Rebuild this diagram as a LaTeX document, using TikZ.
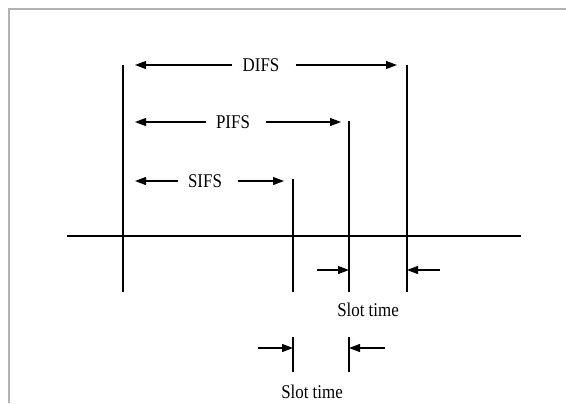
\documentclass[tikz,border=0pt]{standalone}
\usepackage{fontspec}
\setmainfont{Liberation Serif}
\newfontfamily\condserif[FakeStretch=0.87]{Liberation Serif}
\usetikzlibrary{arrows.meta}
\begin{document}
\begin{tikzpicture}[x=1bp,y=-1bp,
  ln/.style={line width=1.2bp},
  arr/.style={line width=1.2bp,-{Triangle[length=11bp,width=8bp]}},
  lbl/.style={font=\condserif\fontsize{19.5}{22}\selectfont,inner sep=0pt},
  frame/.style={draw=black!30,line width=1.4bp}]
\useasboundingbox (0,0) rectangle (566,403);
\draw[frame] (9,403) -- (9,9) -- (566,9);
% time axis
\coordinate (axL) at (67,236);
\coordinate (axR) at (521,236);
\draw[ln] (axL) -- (axR);
% vertical markers
\coordinate (v0t) at (123,65);  \coordinate (v0b) at (123,292);
\coordinate (v1t) at (293,179); \coordinate (v1b) at (293,292);
\coordinate (v2t) at (349,121); \coordinate (v2b) at (349,292);
\coordinate (v3t) at (407,65);  \coordinate (v3b) at (407,292);
\draw[ln] (v0t) -- (v0b);
\draw[ln] (v1t) -- (v1b);
\draw[ln] (v2t) -- (v2b);
\draw[ln] (v3t) -- (v3b);
% DIFS
\node[lbl] (difs) at (261,65) {DIFS};
\coordinate (difsL) at (135,65); \coordinate (difsR) at (397,65);
\draw[arr,shorten <=10bp] (difs.west) -- (difsL);
\draw[arr,shorten <=16bp] (difs.east) -- (difsR);
% PIFS
\node[lbl] (pifs) at (233,122) {PIFS};
\coordinate (pifsL) at (135,122); \coordinate (pifsR) at (341,122);
\draw[arr,shorten <=10bp] (pifs.west) -- (pifsL);
\draw[arr,shorten <=16bp] (pifs.east) -- (pifsR);
% SIFS
\node[lbl] (sifs) at (205,181) {SIFS};
\coordinate (sifsL) at (135,181); \coordinate (sifsR) at (284,181);
\draw[arr,shorten <=10bp] (sifs.west) -- (sifsL);
\draw[arr,shorten <=16bp] (sifs.east) -- (sifsR);
% upper slot time
\coordinate (s1a) at (317,270); \coordinate (s1b) at (349,270);
\coordinate (s1c) at (440,270); \coordinate (s1d) at (407,270);
\draw[arr] (s1a) -- (s1b);
\draw[arr] (s1c) -- (s1d);
\node[lbl] (slot1) at (368,310) {Slot time};
% lower slot time
\coordinate (t1t) at (293,337); \coordinate (t1b) at (293,372);
\coordinate (t2t) at (349,337); \coordinate (t2b) at (349,372);
\draw[ln] (t1t) -- (t1b);
\draw[ln] (t2t) -- (t2b);
\coordinate (s2a) at (258,348); \coordinate (s2b) at (293,348);
\coordinate (s2c) at (385,348); \coordinate (s2d) at (349,348);
\draw[arr] (s2a) -- (s2b);
\draw[arr] (s2c) -- (s2d);
\node[lbl] (slot2) at (312,392) {Slot time};
\end{tikzpicture}
\end{document}
